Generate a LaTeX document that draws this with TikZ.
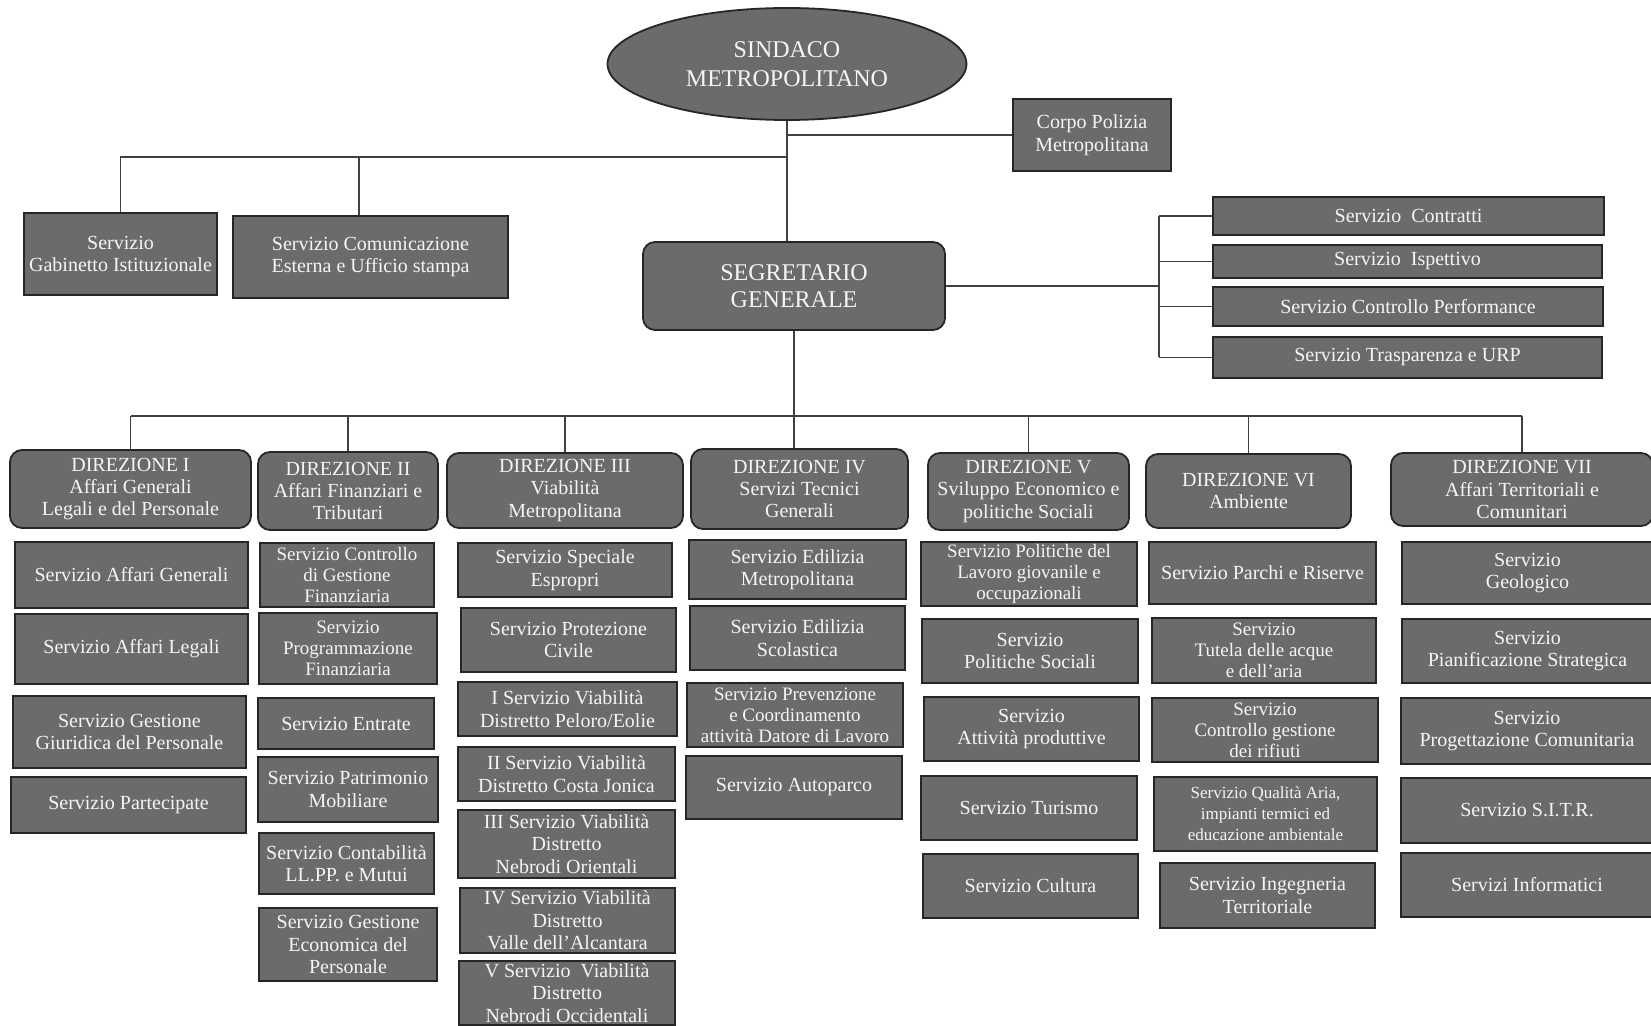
\documentclass[tikz,border=0pt]{standalone}
\usepackage{fontspec}
\setmainfont{Liberation Serif}
\usetikzlibrary{shapes.geometric}
\definecolor{boxfill}{gray}{0.42}
\definecolor{boxtext}{gray}{0.96}
\tikzset{
  svc/.style={draw=black!85, line width=0.6pt, fill=boxfill, text=boxtext,
    align=center, inner sep=0pt, font=\fontsize{10}{11.2}\selectfont},
  dirbox/.style={svc, rounded corners=6pt, line width=0.9pt},
  conn/.style={draw=black!75, line width=0.6pt},
}
\newcommand\bx[7][]{%
  \node[svc,#1,minimum width={(#5-#3)*0.5pt},minimum height={(#6-#4)*0.5pt}]
    (#2) at ({(#3+#5)/2},{(#4+#6)/2}) {#7};}
\begin{document}
\begin{tikzpicture}[x=0.5pt,y=-0.5pt]
\useasboundingbox (0,0) rectangle (1651,1026);
\clip (0,0) rectangle (1651,1026);
% top level
\node[ellipse, draw=black!85, line width=0.9pt, fill=boxfill, text=boxtext,
  minimum width=179.5pt, minimum height=56pt, inner sep=0pt, align=center,
  font=\fontsize{12}{14.5}\selectfont] (sind) at (787,64) {SINDACO\\METROPOLITANO};
\bx{corpo}{1013}{99}{1171}{171}{Corpo Polizia\\Metropolitana}
\bx{gab}{24}{213}{217}{295}{Servizio\\Gabinetto Istituzionale}
\bx{com}{233}{216}{508}{298}{Servizio Comunicazione\\Esterna e Ufficio stampa}
\bx[dirbox,font=\fontsize{12}{13.5}\selectfont]{seg}{643}{242}{945}{330}{SEGRETARIO\\GENERALE}
\bx{contratti}{1213}{197}{1604}{235}{Servizio\ \ Contratti}
\bx{ispettivo}{1213}{245}{1602}{278}{Servizio\ \ Ispettivo}
\bx{perf}{1213}{287}{1603}{326}{Servizio Controllo Performance}
\bx{trasp}{1213}{337}{1602}{378}{Servizio Trasparenza e URP}
% direzioni
\bx[dirbox]{d1}{10}{450}{251}{528}{DIREZIONE I\\Affari Generali\\Legali e del Personale}
\bx[dirbox]{d2}{258}{452}{438}{530}{DIREZIONE II\\Affari Finanziari e\\Tributari}
\bx[dirbox]{d3}{447}{453}{683}{528}{DIREZIONE III\\Viabilità\\Metropolitana}
\bx[dirbox]{d4}{691}{449}{908}{529}{DIREZIONE IV\\Servizi Tecnici\\Generali}
\bx[dirbox]{d5}{928}{453}{1129}{530}{DIREZIONE V\\Sviluppo Economico e\\politiche Sociali}
\bx[dirbox]{d6}{1146}{454}{1351}{528}{DIREZIONE VI\\Ambiente}
\bx[dirbox]{d7}{1391}{453}{1653}{526}{DIREZIONE VII\\Affari Territoriali e\\Comunitari}
% Direzione I
\bx{s1a}{15}{542}{248}{608}{Servizio Affari Generali}
\bx{s1b}{15}{614}{248}{684}{Servizio Affari Legali}
\bx{s1c}{13}{696}{246}{768}{Servizio Gestione\\Giuridica del Personale}
\bx{s1d}{11}{777}{246}{833}{Servizio Partecipate}
% Direzione II
\bx[font=\fontsize{9.5}{10.5}\selectfont]{s2a}{260}{543}{434}{607}{Servizio Controllo\\di Gestione\\Finanziaria}
\bx[font=\fontsize{9.5}{10.5}\selectfont]{s2b}{259}{613}{437}{684}{Servizio\\Programmazione\\Finanziaria}
\bx{s2c}{258}{698}{434}{749}{Servizio Entrate}
\bx{s2d}{258}{757}{438}{822}{Servizio Patrimonio\\Mobiliare}
\bx{s2e}{259}{833}{434}{894}{Servizio Contabilità\\LL.PP. e Mutui}
\bx{s2f}{259}{908}{437}{981}{Servizio Gestione\\Economica del\\Personale}
% Direzione III
\bx{s3a}{458}{543}{672}{597}{Servizio Speciale\\Espropri}
\bx{s3b}{461}{608}{676}{672}{Servizio Protezione\\Civile}
\bx{s3c}{458}{682}{677}{736}{I Servizio Viabilità\\Distretto Peloro/Eolie}
\bx{s3d}{458}{747}{675}{801}{II Servizio Viabilità\\Distretto Costa Jonica}
\bx{s3e}{458}{810}{675}{878}{III Servizio Viabilità\\Distretto\\Nebrodi Orientali}
\bx{s3f}{460}{888}{675}{953}{IV Servizio Viabilità\\Distretto\\Valle dell’Alcantara}
\bx{s3g}{459}{961}{675}{1025}{V Servizio\ \ Viabilità\\Distretto\\Nebrodi Occidentali}
% Direzione IV
\bx{s4a}{689}{540}{906}{599}{Servizio Edilizia\\Metropolitana}
\bx{s4b}{690}{606}{905}{670}{Servizio Edilizia\\Scolastica}
\bx[font=\fontsize{9.5}{10.5}\selectfont]{s4c}{687}{683}{903}{747}{Servizio Prevenzione\\e Coordinamento\\attività Datore di Lavoro}
\bx{s4d}{686}{756}{902}{819}{Servizio Autoparco}
% Direzione V
\bx[font=\fontsize{9.5}{10.5}\selectfont]{s5a}{921}{542}{1137}{606}{Servizio Politiche del\\Lavoro giovanile e\\occupazionali}
\bx{s5b}{922}{619}{1138}{683}{Servizio\\Politiche Sociali}
\bx{s5c}{924}{697}{1139}{761}{Servizio\\Attività produttive}
\bx{s5d}{921}{776}{1137}{840}{Servizio Turismo}
\bx{s5e}{923}{854}{1138}{918}{Servizio Cultura}
% Direzione VI
\bx{s6a}{1149}{542}{1376}{604}{Servizio Parchi e Riserve}
\bx[font=\fontsize{9.5}{10.5}\selectfont]{s6b}{1152}{618}{1376}{683}{Servizio\\Tutela delle acque\\e dell’aria}
\bx[font=\fontsize{9.5}{10.5}\selectfont]{s6c}{1152}{698}{1378}{762}{Servizio\\Controllo gestione\\dei rifiuti}
\bx[font=\fontsize{8.5}{10.5}\selectfont]{s6d}{1154}{777}{1377}{851}{Servizio Qualità Aria,\\impianti termici ed\\educazione ambientale}
\bx{s6e}{1160}{863}{1375}{928}{Servizio Ingegneria\\Territoriale}
% Direzione VII
\bx{s7a}{1402}{542}{1653}{604}{Servizio\\Geologico}
\bx{s7b}{1402}{619}{1653}{683}{Servizio\\Pianificazione Strategica}
\bx{s7c}{1401}{698}{1653}{764}{Servizio\\Progettazione Comunitaria}
\bx{s7d}{1401}{778}{1653}{843}{Servizio S.I.T.R.}
\bx{s7e}{1401}{853}{1653}{917}{Servizi Informatici}
% connectors top
\coordinate (tb) at (787,157);
\coordinate (cb) at (359,157);
\coordinate (tp) at (787,135);
\coordinate (rb) at (1159,286);
\coordinate (lb) at (794,416);
\draw[conn] (sind.south) -- (sind.south |- seg.north);
\draw[conn] (gab.north) |- (tb);
\draw[conn] (cb) -- (cb |- com.north);
\draw[conn] (tp) -- (corpo.west);
\draw[conn] (seg.east) -- (rb);
\draw[conn] (contratti.west -| rb) -- (trasp.west -| rb);
\foreach \n in {contratti,ispettivo,perf,trasp}
  \draw[conn] (\n.west -| rb) -- (\n.west);
% connectors to direzioni
\draw[conn] (seg.south) -- (seg.south |- d4.north);
\draw[conn] (d1.north |- lb) -- (d7.north |- lb);
\foreach \n in {d1,d2,d3,d5,d6,d7}
  \draw[conn] (\n.north |- lb) -- (\n.north);
\end{tikzpicture}
\end{document}
